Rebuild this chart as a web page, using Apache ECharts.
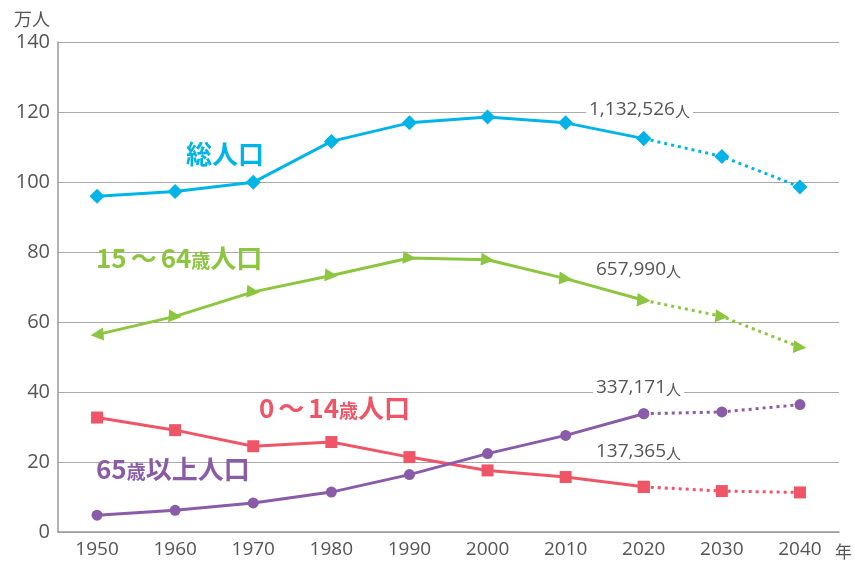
<!DOCTYPE html>
<html lang="ja">
<head>
    <meta charset="UTF-8">
    <title>人口の推移</title>
    <style>
        html, body{ margin:0; padding:0; background:#fff; }
        #main{ width:855px; height:565px; }
    </style>
    <script src="https://cdn.jsdelivr.net/npm/echarts@6/dist/echarts.min.js"></script>
</head>
<body>
<div id="main"></div>
<script type="text/javascript">
    // データ（万人）
    var years = ['1950','1960','1970','1980','1990','2000','2010','2020','2030','2040'];
    var yTicks = [0, 20, 40, 60, 80, 100, 120, 140];
    var total   = [95.9, 97.3, 99.9, 111.6, 116.9, 118.6, 116.9, 112.4, 107.3, 98.6];
    var working = [56.4, 61.6, 68.6, 73.3, 78.3, 77.8, 72.4, 66.2, 61.6, 52.8];
    var young   = [32.7, 29.1, 24.5, 25.7, 21.4, 17.6, 15.7, 12.9, 11.7, 11.3];
    var elderly = [4.8, 6.2, 8.3, 11.4, 16.4, 22.4, 27.6, 33.8, 34.3, 36.4];
    var notes = ['1,132,526', '657,990', '337,171', '137,365'];

    var splitIdx = 7; // 2020 以降は推計（点線）
    var font = '"Noto Sans CJK JP", "Noto Sans", sans-serif';
    var numFont = '"Open Sans", "Noto Sans CJK JP", sans-serif';
    var grey = '#555';

    function solidPart(arr){
        return arr.map(function(v, i){ return i <= splitIdx ? v : null; });
    }
    function dotPart(arr){
        return arr.map(function(v, i){ return i >= splitIdx ? v : null; });
    }
    function triData(arr){
        return arr.map(function(v, i){
            if (v == null) return null;
            return { value: v, symbolRotate: i === 0 ? 95 : -95 };
        });
    }

    function makeSeries(name, arr, color, symbol, size){
        var base = {
            type: 'line',
            name: name,
            symbol: symbol,
            symbolSize: size,
            connectNulls: false,
            itemStyle: { color: color },
            z: 3
        };
        var a = Object.assign({}, base, {
            data: symbol === 'triangle' ? triData(solidPart(arr)) : solidPart(arr),
            lineStyle: { color: color, width: 3 }
        });
        var b = Object.assign({}, base, {
            data: symbol === 'triangle' ? triData(dotPart(arr)) : dotPart(arr),
            lineStyle: { color: color, width: 3, type: [3, 4] }
        });
        return [a, b];
    }

    var myChart = echarts.init(document.getElementById('main'));

    var series = [].concat(
        makeSeries('総人口', total, '#00b4e8', 'diamond', 15),
        makeSeries('15～64歳人口', working, '#8cc63f', 'triangle', 13),
        makeSeries('0～14歳人口', young, '#ee5566', 'rect', 12),
        makeSeries('65歳以上人口', elderly, '#8a5ca8', 'circle', 11)
    );

    // text は "{b|..}{t|～}{s|歳}" のようなリッチテキスト
    function seriesLabel(left, top, text, color){
        var st = { fontWeight: 'bold', fill: color, fontFamily: font };
        return {
            type: 'text',
            left: left,
            top: top,
            z: 10,
            style: {
                text: text,
                rich: {
                    b: Object.assign({ fontSize: 26 }, st),
                    t: Object.assign({ fontSize: 26, padding: [0, 4, 0, 4] }, st),
                    s: Object.assign({ fontSize: 19, padding: [5, 0, 0, 0] }, st)
                }
            }
        };
    }

    function noteLabel(left, top, num){
        return {
            type: 'text',
            left: left,
            top: top,
            z: 10,
            style: {
                text: '{n|' + num + '}{p|人}',
                backgroundColor: '#fff',
                padding: [0, 3, 0, 3],
                rich: {
                    n: { fontSize: 19, fill: grey, fontFamily: numFont },
                    p: { fontSize: 15, fill: grey, fontFamily: font, padding: [3, 0, 0, 0] }
                }
            }
        };
    }

    var option = {
        animation: false,
        grid: { left: 58, right: 13, top: 42, bottom: 33 },
        xAxis: {
            type: 'category',
            data: years,
            boundaryGap: true,
            name: '年',
            nameLocation: 'end',
            nameGap: -4,
            nameTextStyle: { color: grey, fontSize: 17, fontFamily: font, verticalAlign: 'top', padding: [11, 0, 0, 0] },
            axisLine: { lineStyle: { color: '#999', width: 1.5 } },
            axisTick: { inside: true, length: 11, lineStyle: { color: '#999', width: 1.5 } },
            axisLabel: { color: grey, fontSize: 19, fontFamily: numFont, margin: 8 }
        },
        yAxis: {
            type: 'value',
            min: yTicks[0],
            max: yTicks[yTicks.length - 1],
            interval: 20,
            name: '万人',
            nameLocation: 'end',
            nameGap: 14,
            nameTextStyle: { color: grey, fontSize: 18, fontFamily: font, align: 'right', padding: [0, 8, 0, 0] },
            axisLine: { show: true, lineStyle: { color: '#999', width: 1.5 } },
            axisTick: { show: false },
            axisLabel: { color: grey, fontSize: 20, fontFamily: numFont, margin: 8 },
            splitLine: { lineStyle: { color: '#aaa', width: 1.2 } }
        },
        graphic: [
            seriesLabel(186, 141, '{b|総人口}', '#00b4e8'),
            seriesLabel(96, 245, '{b|15}{t|～}{b|64}{s|歳}{b|人口}', '#8cc63f'),
            seriesLabel(259, 395, '{b|0}{t|～}{b|14}{s|歳}{b|人口}', '#ee5566'),
            seriesLabel(96, 456, '{b|65}{s|歳}{b|以上人口}', '#8a5ca8'),
            noteLabel(586, 100, notes[0]),
            noteLabel(593, 260, notes[1]),
            noteLabel(593, 378, notes[2]),
            noteLabel(593, 442, notes[3])
        ],
        series: series
    };

    myChart.setOption(option);
</script>
</body>
</html>
